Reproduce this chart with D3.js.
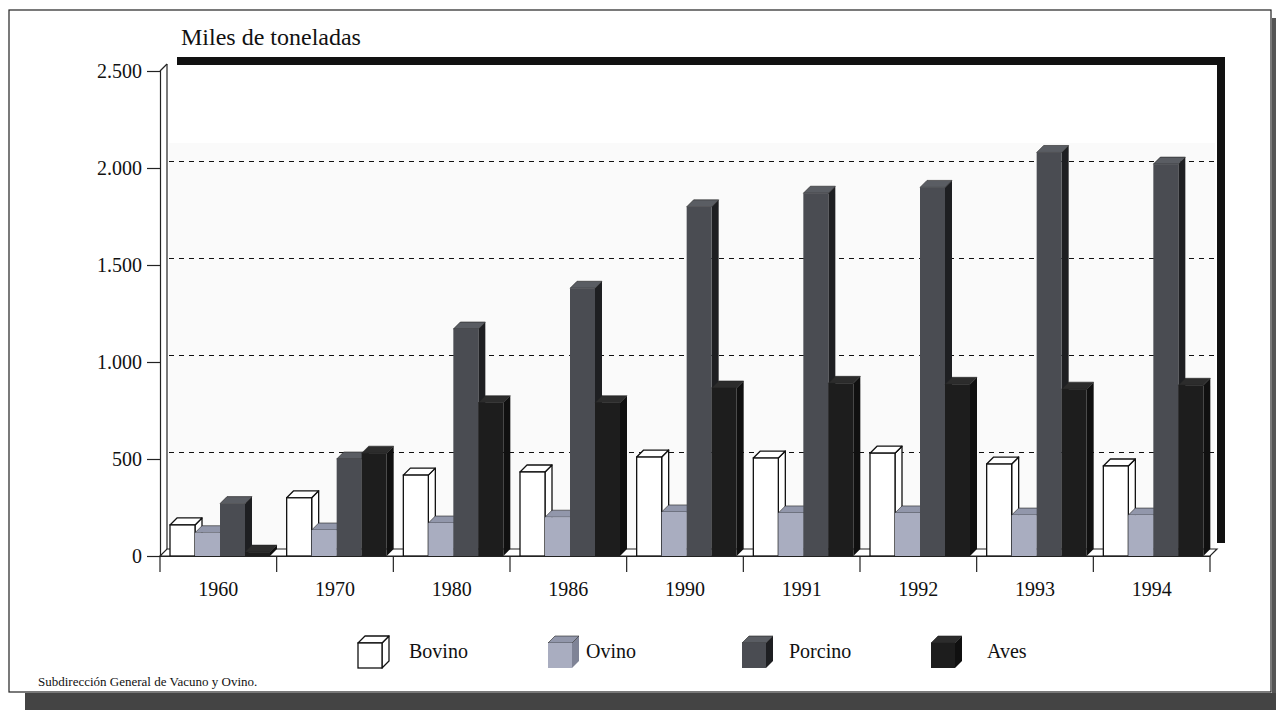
<!DOCTYPE html>
<html>
<head>
<meta charset="utf-8">
<script src="https://cdn.jsdelivr.net/npm/d3@7"></script>
<style>
  html, body { margin: 0; padding: 0; background: #fff; }
  svg { display: block; }
  text { font-family: 'Liberation Serif', 'Times New Roman', serif; fill: #111; }
</style>
</head>
<body>
<div id="chart"></div>
<script>
// Data (thousand tonnes)
const years = ['1960', '1970', '1980', '1986', '1990', '1991', '1992', '1993', '1994'];
const seriesNames = ['Bovino', 'Ovino', 'Porcino', 'Aves'];
const bovino = [160, 300, 417, 433, 510, 505, 530, 474, 464];
const ovino = [120, 134, 170, 200, 227, 222, 222, 211, 211];
const porcino = [270, 500, 1170, 1380, 1800, 1870, 1900, 2080, 2020];
const aves = [20, 530, 790, 790, 866, 890, 885, 860, 880];
const yTicks = [0, 500, 1000, 1500, 2000, 2500];

const values = { Bovino: bovino, Ovino: ovino, Porcino: porcino, Aves: aves };

const colors = {
  Bovino: { front: '#ffffff', top: '#ffffff', side: '#ffffff', stroke: '#111' },
  Ovino: { front: '#a9adc0', top: '#9297ab', side: '#7f8396', stroke: 'none' },
  Porcino: { front: '#4a4c52', top: '#5a5d63', side: '#1e1f22', stroke: 'none' },
  Aves: { front: '#1d1d1d', top: '#2c2c2c', side: '#101010', stroke: 'none' }
};

const W = 1276, H = 710;
const dx = 7, dy = -7; // 3D depth

const svg = d3.select('#chart').append('svg')
  .attr('width', W)
  .attr('height', H);

// Outer frame + shadow
svg.append('rect').attr('x', 1272).attr('y', 18).attr('width', 4).attr('height', 692).attr('fill', '#555');
svg.append('rect').attr('x', 25).attr('y', 693).attr('width', 1251).attr('height', 17).attr('fill', '#444');
svg.append('rect')
  .attr('x', 9).attr('y', 10).attr('width', 1262).attr('height', 682)
  .attr('fill', 'none').attr('stroke', '#222').attr('stroke-width', 1.2);

const x = d3.scaleBand().domain(years).range([160, 1210]).padding(0);
const xs = d3.scaleBand().domain(seriesNames).range([10, 110]).padding(0);
const y = d3.scaleLinear().domain([0, 2500]).range([556, 71]);

const fmt = d3.formatLocale({ decimal: ',', thousands: '.', grouping: [3], currency: ['', ''] }).format(',');

// Back wall
svg.append('rect')
  .attr('x', 160 + dx).attr('y', y(2500) + dy)
  .attr('width', 1210 - 160).attr('height', y(0) - y(2500))
  .attr('fill', '#fff');
svg.append('rect')
  .attr('x', 160 + dx + 2).attr('y', 143)
  .attr('width', 1210 - 160 - 4).attr('height', y(0) + dy - 143)
  .attr('fill', '#fafafa');

// Thick frame around the wall (top and right)
svg.append('rect').attr('x', 177).attr('y', 57).attr('width', 1225 - 177).attr('height', 8).attr('fill', '#111');
svg.append('rect').attr('x', 1217).attr('y', 57).attr('width', 8).attr('height', 543 - 57).attr('fill', '#111');

// Wall left edge and corner
svg.append('line')
  .attr('x1', 160 + dx).attr('x2', 160 + dx)
  .attr('y1', y(2500) + dy).attr('y2', y(0) + dy)
  .attr('stroke', '#222').attr('stroke-width', 1.2);
svg.append('line')
  .attr('x1', 160).attr('y1', y(2500))
  .attr('x2', 160 + dx).attr('y2', y(2500) + dy)
  .attr('stroke', '#222').attr('stroke-width', 1.2);

// Gridlines on back wall
svg.append('g').selectAll('line')
  .data(yTicks.filter(d => d > 0 && d < 2500))
  .enter().append('line')
  .attr('x1', 160 + dx + 2).attr('x2', 1210 + dx - 2)
  .attr('y1', d => Math.round(y(d) + dy) + 0.5).attr('y2', d => Math.round(y(d) + dy) + 0.5)
  .attr('stroke', '#111').attr('stroke-width', 1)
  .attr('stroke-dasharray', '5,5');

// Floor
svg.append('path')
  .attr('d', `M160,${y(0)}L1210,${y(0)}L${1210 + dx},${y(0) + dy}L${160 + dx},${y(0) + dy}Z`)
  .attr('fill', '#fff').attr('stroke', '#222').attr('stroke-width', 1.2);

// 3D bar helper
const drawBar = (g, x0, y0, w, base, c) => {
  const sw = c.stroke === 'none' ? 0 : 1.3;
  g.append('path')
    .attr('d', `M${x0 + w},${y0}L${x0 + w + dx},${y0 + dy}L${x0 + w + dx},${base + dy}L${x0 + w},${base}Z`)
    .attr('fill', c.side).attr('stroke', c.stroke).attr('stroke-width', sw).attr('stroke-linejoin', 'round');
  g.append('path')
    .attr('d', `M${x0},${y0}L${x0 + dx},${y0 + dy}L${x0 + w + dx},${y0 + dy}L${x0 + w},${y0}Z`)
    .attr('fill', c.top).attr('stroke', c.stroke === 'none' ? '#222' : c.stroke).attr('stroke-width', c.stroke === 'none' ? 0.6 : sw).attr('stroke-linejoin', 'round');
  g.append('rect')
    .attr('x', x0).attr('y', y0).attr('width', w).attr('height', Math.max(0, base - y0))
    .attr('fill', c.front).attr('stroke', c.stroke).attr('stroke-width', sw);
};

// Bars
const barsG = svg.append('g');
years.forEach((yr, i) => {
  seriesNames.forEach(s => {
    drawBar(barsG, x(yr) + xs(s), y(values[s][i]), xs.bandwidth(), y(0), colors[s]);
  });
});

// Y axis
const yAxis = svg.append('g')
  .attr('transform', 'translate(160,0)')
  .call(d3.axisLeft(y).tickValues(yTicks).tickFormat(fmt).tickSize(13).tickPadding(5));
yAxis.select('.domain').attr('stroke', '#222').attr('stroke-width', 1.2);
yAxis.selectAll('.tick line').attr('stroke', '#222').attr('stroke-width', 1.2);
yAxis.selectAll('text')
  .style('font-family', "'Liberation Serif', serif")
  .style('font-size', '20px').attr('fill', '#111');

// X axis: labels at band centres, ticks at band edges
const xAxis = svg.append('g')
  .attr('transform', `translate(0,${y(0)})`)
  .call(d3.axisBottom(x).tickSize(0).tickPadding(26));
xAxis.select('.domain').attr('stroke', '#222').attr('stroke-width', 1.2);
xAxis.selectAll('text')
  .style('font-family', "'Liberation Serif', serif")
  .style('font-size', '20px').attr('fill', '#111');
svg.append('g').selectAll('line')
  .data(years.map(d => x(d)).concat([x.range()[1]]))
  .enter().append('line')
  .attr('x1', d => d).attr('x2', d => d)
  .attr('y1', y(0)).attr('y2', y(0) + 16)
  .attr('stroke', '#222').attr('stroke-width', 1.2);

// Title
svg.append('text')
  .attr('x', 181).attr('y', 45)
  .style('font-size', '24px')
  .text('Miles de toneladas');

// Legend
const legendIconX = [358, 548, 742, 931];
const legendTextX = [409, 586, 789, 987];
const legend = svg.append('g');
seriesNames.forEach((s, i) => {
  drawBar(legend, legendIconX[i], 643, 24, 668, colors[s]);
  legend.append('text')
    .attr('x', legendTextX[i]).attr('y', 658)
    .style('font-size', '20px')
    .text(s);
});

// Source
svg.append('text')
  .attr('x', 38).attr('y', 686)
  .style('font-size', '13px')
  .text('Subdirección General de Vacuno y Ovino.');
</script>
</body>
</html>
